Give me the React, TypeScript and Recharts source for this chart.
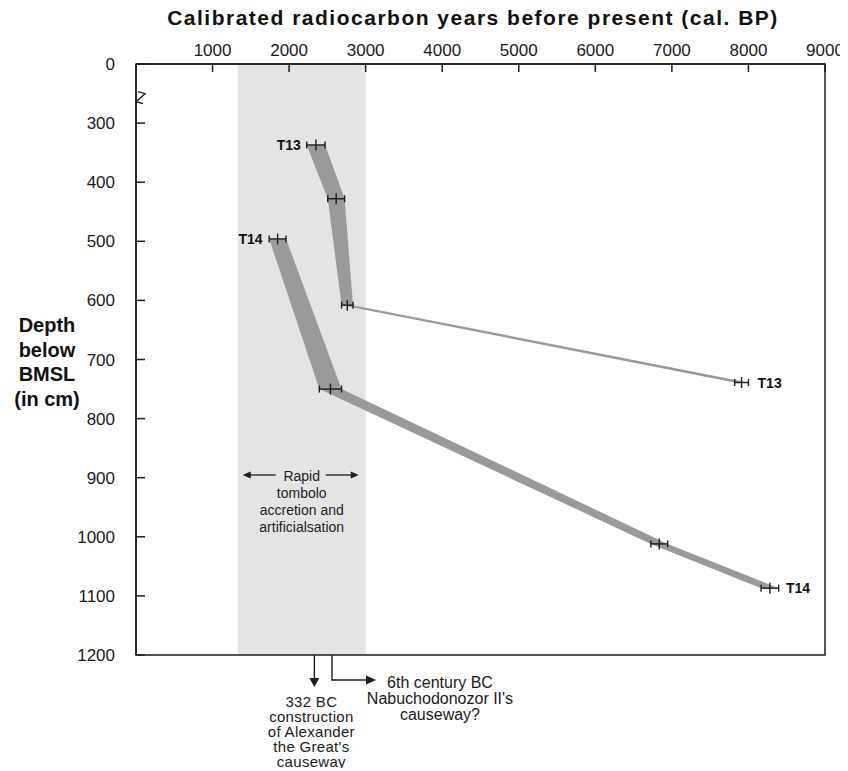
import React from "react";
import {
  ComposedChart,
  XAxis,
  YAxis,
  Area,
  Scatter,
  ErrorBar,
  ReferenceArea,
  ReferenceDot,
} from "recharts";

const FONT = '"Liberation Sans", Arial, Helvetica, sans-serif';
const INK = "#1c1c1c";

// core T13: calibrated age (cal. BP), depth (cm below BMSL), 2-sigma half range
const T13_YEARS = [2350, 2615, 2760, 7910];
const T13_DEPTHS = [337, 428, 608, 739];
const T13_ERRORS = [120, 110, 75, 90];

// core T14
const T14_YEARS = [1850, 2540, 6835, 8280];
const T14_DEPTHS = [496, 750, 1012, 1087];
const T14_ERRORS = [110, 145, 110, 115];

const YEAR_TICKS = [1000, 2000, 3000, 4000, 5000, 6000, 7000, 8000, 9000];
const DEPTH_TICKS = [200, 300, 400, 500, 600, 700, 800, 900, 1000, 1100, 1200];
const DEPTH_TICK_LABELS = ["0", "300", "400", "500", "600", "700", "800", "900", "1000", "1100", "1200"];

const RAPID_PERIOD = [1330, 3000];
const CAUSEWAY_YEARS = [2330, 2560];

const buildCore = (years: number[], depths: number[], errs: number[]) =>
  years.map((year, i) => ({
    year,
    depth: depths[i],
    err: errs[i],
    span: [year - errs[i], year + errs[i]],
  }));

const t13 = buildCore(T13_YEARS, T13_DEPTHS, T13_ERRORS);
const t14 = buildCore(T14_YEARS, T14_DEPTHS, T14_ERRORS);

const pointShape = (name: string, depths: number[]) => (props: any) => {
  const { cx, cy, payload } = props;
  const d = payload?.depth;
  const first = d === depths[0];
  const last = d === depths[depths.length - 1];
  return (
    <g>
      <line x1={cx} x2={cx} y1={cy - 5.5} y2={cy + 5.5} stroke={INK} strokeWidth={1.4} />
      {(first || last) && (
        <text
          x={first ? cx - 15 : cx + 16}
          y={cy}
          textAnchor={first ? "end" : "start"}
          dominantBaseline="central"
          fontFamily={FONT}
          fontSize={14}
          fontWeight="bold"
          fill="#111"
        >
          {name}
        </text>
      )}
    </g>
  );
};

const head = (x: number, y: number, dir: "left" | "right" | "down", len = 9, half = 4) => {
  if (dir === "left") return `${x},${y} ${x + len},${y - half} ${x + len},${y + half}`;
  if (dir === "right") return `${x},${y} ${x - len},${y - half} ${x - len},${y + half}`;
  return `${x},${y} ${x - half},${y - len} ${x + half},${y - len}`;
};

const bandNote = (props: any) => {
  const { cx, cy } = props;
  const ay = cy - 2.7;
  return (
    <g fontFamily={FONT} fontSize={14} fill="#222" textAnchor="middle">
      <line x1={cx - 26} y1={ay} x2={cx - 52} y2={ay} stroke={INK} strokeWidth={1.3} />
      <polygon points={head(cx - 59, ay, "left", 8, 3.5)} fill={INK} />
      <line x1={cx + 24} y1={ay} x2={cx + 50} y2={ay} stroke={INK} strokeWidth={1.3} />
      <polygon points={head(cx + 57, ay, "right", 8, 3.5)} fill={INK} />
      <text x={cx} y={cy - 1.7} dominantBaseline="central">Rapid</text>
      <text x={cx} y={cy + 15.3} dominantBaseline="central">tombolo</text>
      <text x={cx} y={cy + 32.3} dominantBaseline="central">accretion and</text>
      <text x={cx} y={cy + 49.3} dominantBaseline="central">artificialsation</text>
    </g>
  );
};

const alexanderNote = (props: any) => {
  const { cx, cy } = props;
  const lines = ["332 BC", "construction", "of Alexander", "the Great's", "causeway"];
  return (
    <g fontFamily={FONT} fontSize={15} fill="#1a1a1a" textAnchor="middle">
      <line x1={cx} y1={cy} x2={cx} y2={cy + 24} stroke={INK} strokeWidth={1.4} />
      <polygon points={head(cx, cy + 32, "down", 9, 5)} fill={INK} />
      {lines.map((t, i) => (
        <text key={t} x={cx - 3} y={cy + 46 + i * 15} dominantBaseline="central" letterSpacing={0.3}>
          {t}
        </text>
      ))}
    </g>
  );
};

const nabuNote = (props: any) => {
  const { cx, cy } = props;
  const lines = ["6th century BC", "Nabuchodonozor II's", "causeway?"];
  return (
    <g fontFamily={FONT} fontSize={16} fill="#1a1a1a" textAnchor="middle">
      <polyline
        points={`${cx},${cy} ${cx},${cy + 25} ${cx + 35},${cy + 25}`}
        fill="none"
        stroke={INK}
        strokeWidth={1.4}
      />
      <polygon points={head(cx + 44, cy + 25, "right", 10, 4.5)} fill={INK} />
      {lines.map((t, i) => (
        <text key={t} x={cx + 108} y={cy + 27 + i * 16} dominantBaseline="central">
          {t}
        </text>
      ))}
    </g>
  );
};

const axisBreak = (props: any) => {
  const { cx, cy } = props;
  const x = cx + 4;
  return (
    <path
      d={`M ${x - 2} ${cy - 6} L ${x + 5} ${cy - 4} L ${x - 4} ${cy + 4} L ${x + 3} ${cy + 6}`}
      fill="none"
      stroke={INK}
      strokeWidth={1.3}
    />
  );
};

export default function App() {
  return (
    <div style={{ position: "relative", width: 840, height: 760, fontFamily: FONT }}>
      <div
        style={{
          position: "absolute",
          left: 65,
          top: -2,
          width: 800,
          textAlign: "center",
          fontSize: 21,
          fontWeight: "bold",
          letterSpacing: "1.5px",
          lineHeight: "24px",
          color: "#111",
        }}
      >
        Calibrated radiocarbon years before present (cal. BP)
      </div>
      <div
        style={{
          position: "absolute",
          left: -11,
          top: 305,
          width: 100,
          textAlign: "center",
          fontSize: 20,
          fontWeight: "bold",
          lineHeight: "24.7px",
          color: "#111",
        }}
      >
        Depth
        <br />
        below
        <br />
        BMSL
        <br />
        (in cm)
      </div>
      <ComposedChart
        width={840}
        height={760}
        layout="vertical"
        margin={{ top: 26, right: 23, bottom: 113, left: 68 }}
      >
        <XAxis
          type="number"
          dataKey="year"
          orientation="top"
          domain={[0, 9000]}
          ticks={YEAR_TICKS}
          allowDataOverflow
          height={30}
          tickSize={-8}
          tickMargin={16}
          axisLine={{ stroke: INK, strokeWidth: 1.5 }}
          tickLine={{ stroke: INK, strokeWidth: 1.5 }}
          tick={{ fontSize: 17, fill: "#1a1a1a", fontFamily: FONT }}
        />
        <YAxis
          type="number"
          dataKey="depth"
          domain={[200, 1200]}
          ticks={DEPTH_TICKS}
          allowDataOverflow
          width={60}
          tickSize={-9}
          tickMargin={30}
          tickFormatter={(v: number) => DEPTH_TICK_LABELS[DEPTH_TICKS.indexOf(v)]}
          axisLine={{ stroke: INK, strokeWidth: 1.5 }}
          tickLine={{ stroke: INK, strokeWidth: 1.5 }}
          tick={{ fontSize: 17, fill: "#1a1a1a", fontFamily: FONT }}
        />
        <ReferenceArea
          x1={RAPID_PERIOD[0]}
          x2={RAPID_PERIOD[1]}
          y1={200}
          y2={1200}
          fill="#e4e4e4"
          fillOpacity={1}
          stroke="none"
        />
        <Area
          data={t13}
          dataKey="span"
          type="linear"
          fill="#9a9a9a"
          fillOpacity={1}
          stroke="none"
          isAnimationActive={false}
        />
        <Area
          data={t14}
          dataKey="span"
          type="linear"
          fill="#9a9a9a"
          fillOpacity={1}
          stroke="none"
          isAnimationActive={false}
        />
        <Scatter data={t13} shape={pointShape("T13", T13_DEPTHS)} isAnimationActive={false}>
          <ErrorBar dataKey="err" direction="x" width={3.5} stroke={INK} strokeWidth={1.4} />
        </Scatter>
        <Scatter data={t14} shape={pointShape("T14", T14_DEPTHS)} isAnimationActive={false}>
          <ErrorBar dataKey="err" direction="x" width={3.5} stroke={INK} strokeWidth={1.4} />
        </Scatter>
        <ReferenceArea
          x1={0}
          x2={9000}
          y1={200}
          y2={1200}
          fill="none"
          stroke={INK}
          strokeWidth={1.5}
        />
        <ReferenceDot x={(RAPID_PERIOD[0] + RAPID_PERIOD[1]) / 2} y={900} shape={bandNote} ifOverflow="visible" />
        <ReferenceDot x={CAUSEWAY_YEARS[0]} y={1200} shape={alexanderNote} ifOverflow="visible" />
        <ReferenceDot x={CAUSEWAY_YEARS[1]} y={1200} shape={nabuNote} ifOverflow="visible" />
        <ReferenceDot x={0} y={257} shape={axisBreak} ifOverflow="visible" />
      </ComposedChart>
    </div>
  );
}
